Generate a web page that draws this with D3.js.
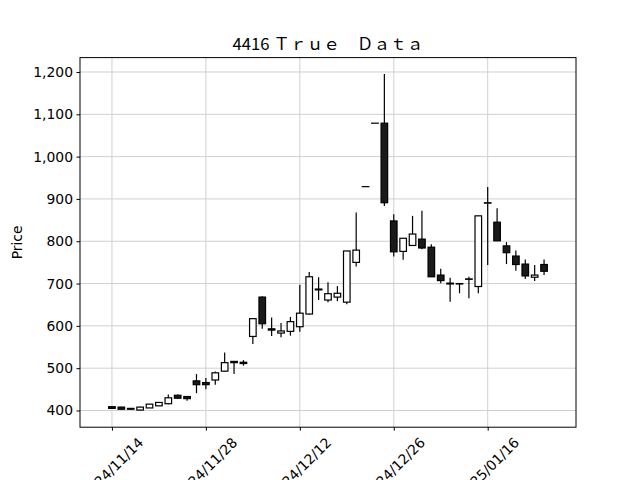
<!DOCTYPE html>
<html><head><meta charset="utf-8">
<script src="https://cdn.jsdelivr.net/npm/d3@7"></script>
<style>body{margin:0;background:#fff}</style>
</head><body>
<svg id="c" width="640" height="480"></svg>
<script>
const dates = ["2024/11/14","2024/11/15","2024/11/18","2024/11/19","2024/11/20","2024/11/21","2024/11/22","2024/11/25","2024/11/26","2024/11/27",
"2024/11/28","2024/11/29","2024/12/02","2024/12/03","2024/12/04","2024/12/05","2024/12/06","2024/12/09","2024/12/10","2024/12/11",
"2024/12/12","2024/12/13","2024/12/16","2024/12/17","2024/12/18","2024/12/19","2024/12/20","2024/12/23","2024/12/24","2024/12/25",
"2024/12/26","2024/12/27","2024/12/30","2025/01/06","2025/01/07","2025/01/08","2025/01/09","2025/01/10","2025/01/14","2025/01/15",
"2025/01/16","2025/01/17","2025/01/20","2025/01/21","2025/01/22","2025/01/23","2025/01/24"];
const open  = [409,408,405,401,406,411,416,436,433,470, 466,472,493,516,514,575,668,593,583,587, 598,628,687,661,668,656,750,929,1079,1079, 848,776,790,805,786,720,701,700,710,693, 890,845,789,765,746,715,745];
const high  = [409,409,406,409,415,419,438,438,434,486, 477,492,537,517,519,617,670,620,607,621, 697,727,715,703,694,777,868,929,1079,1195, 864,807,860,872,793,735,714,700,716,860, 928,878,798,778,757,744,757];
const low   = [405,402,402,400,406,411,415,428,423,441, 450,461,492,486,506,557,593,576,573,577, 586,626,661,656,658,651,740,929,1079,883, 764,756,790,781,716,701,657,677,665,677, 744,801,746,730,711,706,720];
const close = [405,403,403,408,415,419,430,429,428,461, 461,489,513,513,511,617,605,590,588,610, 630,716,685,676,677,777,779,929,1079,891, 775,807,817,784,716,707,699,699,711,860, 891,801,773,745,718,720,729];
const tickIdx = [0,10,20,30,40];
const yTicks = [400,500,600,700,800,900,1000,1100,1200];
const title = "4416 Ｔｒｕｅ　Ｄａｔａ";

const L=80,R=576,T=57.6,B=427.2;
const svg = d3.select("#c");
svg.append("rect").attr("width",640).attr("height",480).attr("fill","#fff");
const x = d3.scaleLinear().domain([-3.4,49.4]).range([L,R]);
const y = d3.scaleLinear().domain([360.5,1234]).range([B,T]);
const fmt = d3.format(",");
const font = "DejaVu Sans";
const fs = 13.9;

// grid
const g = svg.append("g");
g.selectAll(".gx").data(tickIdx).enter().append("line")
 .attr("x1",d=>x(d)).attr("x2",d=>x(d)).attr("y1",T).attr("y2",B)
 .attr("stroke","#d0d0d0").attr("stroke-width",1);
g.selectAll(".gy").data(yTicks).enter().append("line")
 .attr("x1",L).attr("x2",R).attr("y1",d=>y(d)).attr("y2",d=>y(d))
 .attr("stroke","#d0d0d0").attr("stroke-width",1);

// candles
const data = dates.map((d,i)=>({i,o:open[i],h:high[i],l:low[i],c:close[i]}));
const cg = svg.append("g");
const bw = x(0.35)-x(0);
cg.selectAll(".w").data(data).enter().append("line")
 .attr("x1",d=>x(d.i)).attr("x2",d=>x(d.i))
 .attr("y1",d=>y(d.h)).attr("y2",d=>y(d.l))
 .attr("stroke","#000").attr("stroke-width",1.2);
cg.selectAll(".b").data(data).enter().append("rect")
 .attr("x",d=>x(d.i)-bw).attr("width",bw*2)
 .attr("y",d=>y(Math.max(d.o,d.c)))
 .attr("height",d=>Math.max(0.01,Math.abs(y(d.o)-y(d.c))))
 .attr("fill",d=>d.c>=d.o?"#fff":"#1a1a1a")
 .attr("stroke","#000").attr("stroke-width",1.2);

// frame
svg.append("rect").attr("x",L).attr("y",T).attr("width",R-L).attr("height",B-T)
 .attr("fill","none").attr("stroke","#000").attr("stroke-width",1);

// y axis
const ya = svg.append("g").attr("transform",`translate(${L},0)`)
 .call(d3.axisLeft(y).tickValues(yTicks).tickFormat(fmt).tickSize(3.5).tickPadding(3.5));
ya.select(".domain").remove();
ya.selectAll("text").attr("font-family",font).attr("font-size",fs).attr("fill","#000");
ya.selectAll("line").attr("stroke","#000");

// x axis
const xa = svg.append("g").attr("transform",`translate(0,${B})`)
 .call(d3.axisBottom(x).tickValues(tickIdx).tickFormat(d=>dates[d]).tickSize(3.5).tickPadding(3.5));
xa.select(".domain").remove();
xa.selectAll("line").attr("stroke","#000");
xa.selectAll("text").attr("font-family",font).attr("font-size",fs).attr("fill","#000")
 .attr("dy",null).attr("y",null).attr("text-anchor","middle").attr("dominant-baseline","central")
 .each(function(){
   const w=this.getComputedTextLength();
   const h=fs*1.15;
   const bb=(w+h)*Math.SQRT1_2;
   d3.select(this).attr("transform",`translate(0,${7+bb/2}) rotate(-45)`);
 });

// labels
svg.append("text").attr("x",L+(R-L)/2).attr("y",50).attr("text-anchor","middle")
 .attr("font-family","Noto Sans CJK JP").attr("font-size",16.7).attr("fill","#000").text(title);
svg.append("text").attr("transform",`translate(22,${(T+B)/2}) rotate(-90)`).attr("text-anchor","middle")
 .attr("font-family",font).attr("font-size",fs).attr("fill","#000").text("Price");
</script>
</body></html>
